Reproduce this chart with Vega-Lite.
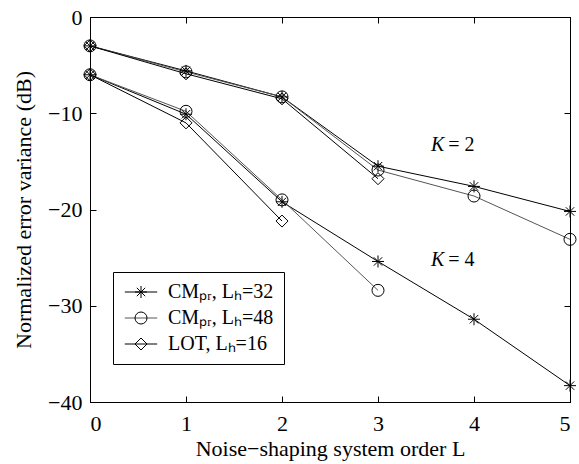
{
  "$schema": "https://vega.github.io/schema/vega-lite/v6.json",
  "width": 480,
  "height": 385,
  "autosize": "none",
  "padding": {"left": 90, "top": 17, "right": 9, "bottom": 62},
  "background": "white",
  "config": {
    "view": {"stroke": "black", "strokeWidth": 1},
    "font": "Liberation Serif",
    "axis": {
      "labelFont": "Liberation Serif", "labelFontSize": 22, "labelColor": "black",
      "titleFont": "Liberation Serif", "titleFontSize": 22, "titleFontWeight": "normal", "titleColor": "black",
      "grid": false, "domainColor": "black", "tickColor": "black", "tickSize": -6, "domainWidth": 1, "tickWidth": 1
    },
    "legend": {
      "labelFont": "Liberation Serif", "labelFontSize": 20, "labelColor": "black",
      "padding": 10, "rowPadding": 6,
      "symbolSize": 144, "symbolStrokeWidth": 1, "symbolOffset": 8, "labelOffset": 17
    }
  },
  "datasets": {
    "series": [
      {"method": "CMₚᵣ, Lₕ=32", "K": 2, "L": 0, "dB": -3.0},
      {"method": "CMₚᵣ, Lₕ=32", "K": 2, "L": 1, "dB": -5.6},
      {"method": "CMₚᵣ, Lₕ=32", "K": 2, "L": 2, "dB": -8.3},
      {"method": "CMₚᵣ, Lₕ=32", "K": 2, "L": 3, "dB": -15.5},
      {"method": "CMₚᵣ, Lₕ=32", "K": 2, "L": 4, "dB": -17.6},
      {"method": "CMₚᵣ, Lₕ=32", "K": 2, "L": 5, "dB": -20.2},
      {"method": "CMₚᵣ, Lₕ=48", "K": 2, "L": 0, "dB": -3.0},
      {"method": "CMₚᵣ, Lₕ=48", "K": 2, "L": 1, "dB": -5.7},
      {"method": "CMₚᵣ, Lₕ=48", "K": 2, "L": 2, "dB": -8.3},
      {"method": "CMₚᵣ, Lₕ=48", "K": 2, "L": 3, "dB": -15.9},
      {"method": "CMₚᵣ, Lₕ=48", "K": 2, "L": 4, "dB": -18.6},
      {"method": "CMₚᵣ, Lₕ=48", "K": 2, "L": 5, "dB": -23.1},
      {"method": "LOT, Lₕ=16", "K": 2, "L": 0, "dB": -3.0},
      {"method": "LOT, Lₕ=16", "K": 2, "L": 1, "dB": -5.9},
      {"method": "LOT, Lₕ=16", "K": 2, "L": 2, "dB": -8.5},
      {"method": "LOT, Lₕ=16", "K": 2, "L": 3, "dB": -16.8},
      {"method": "CMₚᵣ, Lₕ=32", "K": 4, "L": 0, "dB": -6.0},
      {"method": "CMₚᵣ, Lₕ=32", "K": 4, "L": 1, "dB": -10.1},
      {"method": "CMₚᵣ, Lₕ=32", "K": 4, "L": 2, "dB": -19.2},
      {"method": "CMₚᵣ, Lₕ=32", "K": 4, "L": 3, "dB": -25.4},
      {"method": "CMₚᵣ, Lₕ=32", "K": 4, "L": 4, "dB": -31.4},
      {"method": "CMₚᵣ, Lₕ=32", "K": 4, "L": 5, "dB": -38.3},
      {"method": "CMₚᵣ, Lₕ=48", "K": 4, "L": 0, "dB": -6.0},
      {"method": "CMₚᵣ, Lₕ=48", "K": 4, "L": 1, "dB": -9.8},
      {"method": "CMₚᵣ, Lₕ=48", "K": 4, "L": 2, "dB": -19.0},
      {"method": "CMₚᵣ, Lₕ=48", "K": 4, "L": 3, "dB": -28.4},
      {"method": "LOT, Lₕ=16", "K": 4, "L": 0, "dB": -6.0},
      {"method": "LOT, Lₕ=16", "K": 4, "L": 1, "dB": -11.0},
      {"method": "LOT, Lₕ=16", "K": 4, "L": 2, "dB": -21.2}
    ],
    "labels": [
      {"L": 3.69, "dB": -13.3, "k": "K", "rest": "= 2"},
      {"L": 3.69, "dB": -25.2, "k": "K", "rest": "= 4"}
    ]
  },
  "layer": [
    {
      "data": {"name": "series"},
      "mark": {"type": "line", "strokeWidth": 1},
      "encoding": {
        "x": {"field": "L", "type": "quantitative", "scale": {"domain": [0, 5], "nice": false},
              "axis": {"values": [0, 1, 2, 3, 4, 5], "format": "d", "labelPadding": 17, "titlePadding": 4,
                       "title": "Noise−shaping system order L"}},
        "y": {"field": "dB", "type": "quantitative", "scale": {"domain": [-40, 0], "nice": false},
              "axis": {"values": [0, -10, -20, -30, -40], "format": "d", "labelPadding": 14, "titlePadding": 12,
                       "title": "Normalized error variance (dB)"}},
        "detail": [{"field": "K"}],
        "stroke": {"field": "method", "type": "nominal",
                   "scale": {"range": ["#000000", "#555555", "#000000"]},
                   "legend": {"title": null, "orient": "none", "legendX": 23, "legendY": 255,
                              "symbolType": "M-2.7,0L2.7,0", "labelExpr": "' '"}}
      }
    },
    {
      "data": {"name": "series"},
      "mark": {"type": "point", "filled": false, "color": "black", "strokeWidth": 1, "size": 144, "opacity": 1},
      "encoding": {
        "x": {"field": "L", "type": "quantitative",
              "axis": {"orient": "top", "values": [0, 1, 2, 3, 4, 5], "labels": false, "title": null}},
        "y": {"field": "dB", "type": "quantitative",
              "axis": {"orient": "right", "values": [0, -10, -20, -30, -40], "labels": false, "title": null}},
        "shape": {"field": "method", "type": "nominal",
                  "scale": {"domain": ["CMₚᵣ, Lₕ=32", "CMₚᵣ, Lₕ=48", "LOT, Lₕ=16"],
                            "range": ["M-1,0L1,0M0,-1L0,1M-0.7,-0.7L0.7,0.7M-0.7,0.7L0.7,-0.7", "circle", "diamond"]},
                  "legend": {"title": null, "orient": "none", "legendX": 23, "legendY": 255,
                             "strokeColor": "black"}}
      }
    },
    {
      "data": {"name": "labels"},
      "mark": {"type": "text", "align": "right", "baseline": "middle", "fontSize": 20, "fontStyle": "italic", "font": "Liberation Serif", "color": "black"},
      "encoding": {
        "x": {"field": "L", "type": "quantitative", "axis": null},
        "y": {"field": "dB", "type": "quantitative", "axis": null},
        "text": {"field": "k"}
      }
    },
    {
      "data": {"name": "labels"},
      "mark": {"type": "text", "align": "left", "baseline": "middle", "dx": 4, "fontSize": 20, "font": "Liberation Serif", "color": "black"},
      "encoding": {
        "x": {"field": "L", "type": "quantitative", "axis": null},
        "y": {"field": "dB", "type": "quantitative", "axis": null},
        "text": {"field": "rest"}
      }
    }
  ],
  "resolve": {"axis": {"x": "independent", "y": "independent"}}
}
